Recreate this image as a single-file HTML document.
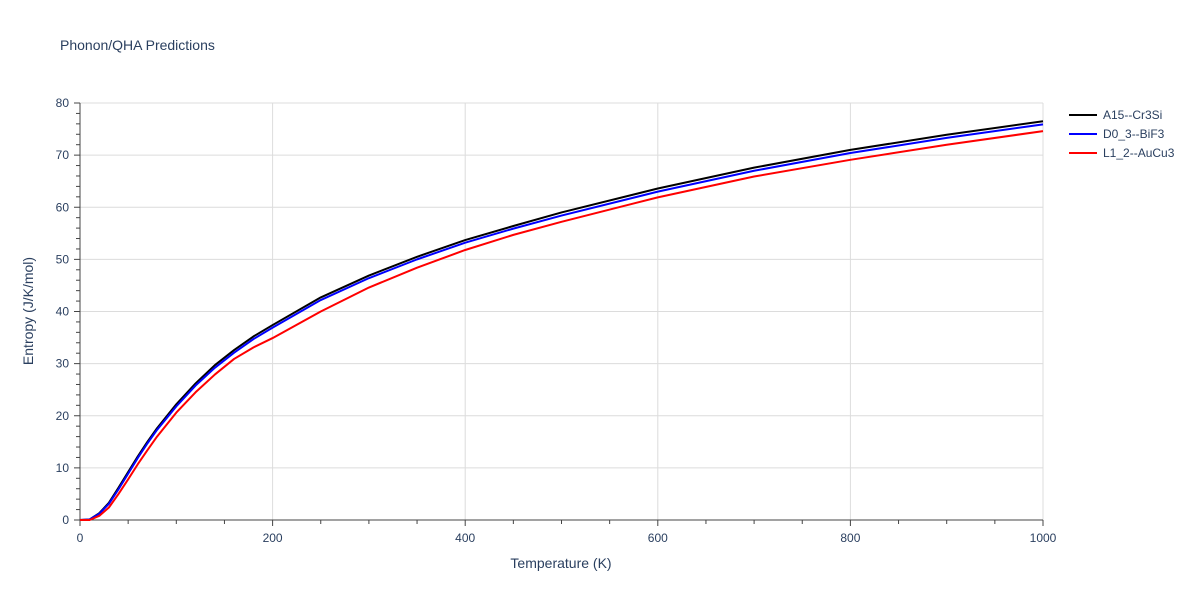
<!DOCTYPE html>
<html><head><meta charset="utf-8"><style>
body{margin:0;background:#fff;font-family:"Liberation Sans",sans-serif}
svg text{font-family:"Liberation Sans",sans-serif;fill:#2a3f5f}
</style></head><body>
<svg id="chart" width="1200" height="600" xmlns="http://www.w3.org/2000/svg">
<rect width="1200" height="600" fill="#fff"/>
<text x="60" y="50" font-size="14">Phonon/QHA Predictions</text>
<g id="grid"></g><g id="axes"></g><g id="series"></g><g id="legend"></g>
<text x="561" y="568" font-size="14" text-anchor="middle">Temperature (K)</text>
<text transform="translate(33,311) rotate(-90)" font-size="14" text-anchor="middle">Entropy (J/K/mol)</text>
</svg>
<script>
const temps=[0,10,20,30,40,50,60,70,80,100,120,140,160,180,200,250,300,350,400,450,500,600,700,800,900,1000];
const sA15=[0,0.1,1.3,3.3,6.2,9.2,12.2,15.0,17.6,22.2,26.2,29.7,32.6,35.2,37.4,42.7,46.9,50.5,53.7,56.4,59.0,63.6,67.6,71.0,73.9,76.5];
const sD03=[0,0.1,1.2,3.1,5.9,8.9,11.9,14.7,17.3,21.8,25.8,29.2,32.1,34.7,36.9,42.2,46.4,50.0,53.2,55.9,58.4,63.0,67.0,70.4,73.3,75.9];
const sL12=[0,0,0.8,2.4,5.0,7.8,10.7,13.4,16.0,20.6,24.5,27.9,30.9,33.1,34.9,40.0,44.6,48.4,51.8,54.7,57.2,61.9,65.9,69.1,72.0,74.6];
const xTicks=[0,200,400,600,800,1000];
const yTicks=[0,10,20,30,40,50,60,70,80];
const names=["A15--Cr3Si","D0_3--BiF3","L1_2--AuCu3"];
const colors=["#000000","#0000ff","#ff0000"];
const X0=80,X1=1043,Y0=520,Y1=103;
const xs=v=>X0+(X1-X0)*v/1000, ys=v=>Y0-(Y0-Y1)*v/80;
const NS="http://www.w3.org/2000/svg";
function mk(p,t,a){const e=document.createElementNS(NS,t);for(const k in a)e.setAttribute(k,a[k]);p.appendChild(e);return e;}
const grid=document.getElementById('grid'),axes=document.getElementById('axes'),ser=document.getElementById('series'),leg=document.getElementById('legend');
xTicks.forEach(t=>{
 if(t>0){const l=mk(grid,'line',{x1:xs(t),x2:xs(t),y1:Y1,y2:Y0,stroke:'#dcdcdc','stroke-width':1});
 
 }
 const tx=mk(axes,'text',{x:xs(t),y:Y0+22,'font-size':12,'text-anchor':'middle'});tx.textContent=t;
 
 
});
for(let t=0;t<=1000;t+=50){mk(axes,'line',{x1:xs(t),x2:xs(t),y1:Y0,y2:Y0+(t%200?4:6),stroke:'#444'});}
yTicks.forEach(t=>{
 if(t>0){const l=mk(grid,'line',{x1:X0,x2:X1,y1:ys(t),y2:ys(t),stroke:'#dcdcdc','stroke-width':1});
 
 }
 const tx=mk(axes,'text',{x:X0-11,y:ys(t)+4,'font-size':12,'text-anchor':'end'});tx.textContent=t;
 
 
});
for(let t=0;t<=80;t+=2){mk(axes,'line',{x1:X0,x2:X0-(t%10?4:6),y1:ys(t),y2:ys(t),stroke:'#444'});}
mk(axes,'line',{x1:X0,x2:X1,y1:Y0,y2:Y0,stroke:'#444'});
mk(axes,'line',{x1:X0,x2:X0,y1:Y1,y2:Y0,stroke:'#444'});
[sA15,sD03,sL12].forEach((s,i)=>{
 const p=mk(ser,'polyline',{points:temps.map((t,j)=>xs(t)+','+ys(s[j])).join(' '),fill:'none',stroke:colors[i],'stroke-width':2,'stroke-linejoin':'round'});
 
 
 const g=mk(leg,'g',{});
 
 
 mk(g,'line',{x1:1069,x2:1097,y1:115+i*19,y2:115+i*19,stroke:colors[i],'stroke-width':2});
 const tx=mk(g,'text',{x:1103,y:119+i*19,'font-size':12});tx.textContent=names[i];
});
</script>
</body></html>
